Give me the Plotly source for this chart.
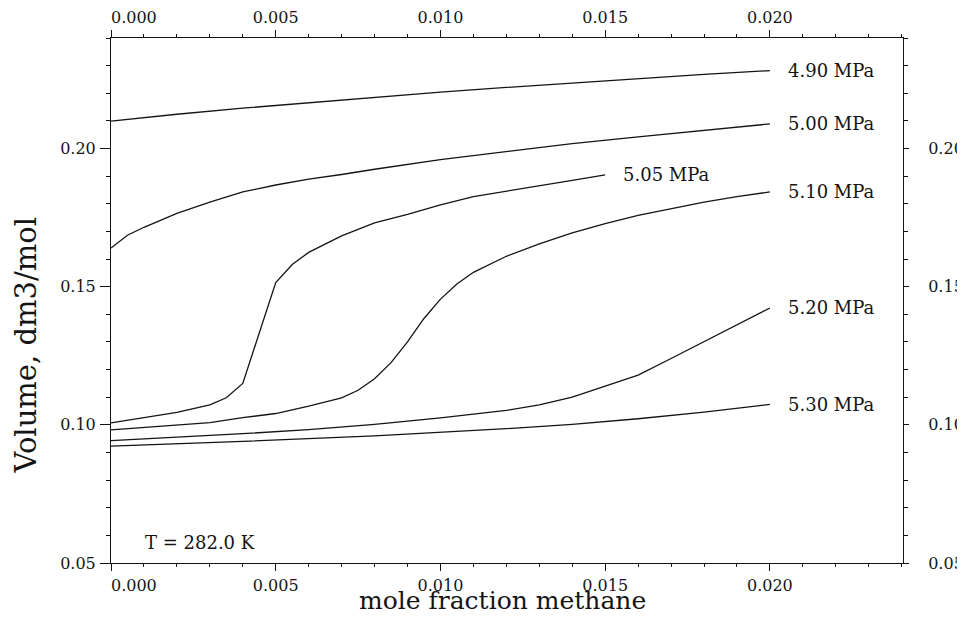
import plotly.graph_objects as go

# ---- data ----
x_490 = [0.000, 0.002, 0.004, 0.006, 0.008, 0.010, 0.012, 0.014, 0.016, 0.018, 0.020]
v_490 = [0.2099, 0.2124, 0.2146, 0.2166, 0.2186, 0.2204, 0.2221, 0.2237, 0.2253, 0.2268, 0.2282]

x_500 = [0.000, 0.0005, 0.001, 0.002, 0.003, 0.004, 0.005, 0.006, 0.007, 0.008,
         0.010, 0.012, 0.014, 0.016, 0.018, 0.020]
v_500 = [0.1640, 0.1686, 0.1715, 0.1765, 0.1806, 0.1843, 0.1868, 0.1889, 0.1906, 0.1925,
         0.1960, 0.1990, 0.2018, 0.2042, 0.2066, 0.2089]

x_505 = [0.000, 0.001, 0.002, 0.003, 0.0035, 0.004, 0.005, 0.0055, 0.006, 0.007,
         0.008, 0.009, 0.010, 0.011, 0.012, 0.013, 0.014, 0.015]
v_505 = [0.1007, 0.1025, 0.1045, 0.1072, 0.1098, 0.1150, 0.1515, 0.1580, 0.1624, 0.1684,
         0.1731, 0.1762, 0.1796, 0.1826, 0.1845, 0.1866, 0.1885, 0.1905]

x_510 = [0.000, 0.001, 0.002, 0.003, 0.004, 0.005, 0.006, 0.007, 0.0075, 0.008,
         0.0085, 0.009, 0.0095, 0.010, 0.0105, 0.011, 0.012, 0.013, 0.014, 0.015,
         0.016, 0.017, 0.018, 0.019, 0.020]
v_510 = [0.0982, 0.0990, 0.0998, 0.1008, 0.1026, 0.1041, 0.1068, 0.1098, 0.1125, 0.1167,
         0.1225, 0.1300, 0.1385, 0.1455, 0.1510, 0.1552, 0.1610, 0.1655, 0.1695, 0.1728,
         0.1758, 0.1782, 0.1806, 0.1826, 0.1843]

x_520 = [0.000, 0.002, 0.004, 0.006, 0.008, 0.010, 0.012, 0.013, 0.014, 0.015,
         0.016, 0.017, 0.018, 0.019, 0.020]
v_520 = [0.0943, 0.0955, 0.0968, 0.0983, 0.1002, 0.1025, 0.1052, 0.1072, 0.1100, 0.1140,
         0.1180, 0.1240, 0.1300, 0.1362, 0.1423]

x_530 = [0.000, 0.004, 0.008, 0.010, 0.012, 0.014, 0.016, 0.018, 0.020]
v_530 = [0.0923, 0.0940, 0.0960, 0.0972, 0.0986, 0.1002, 0.1022, 0.1046, 0.1074]

series_names = ["4.90 MPa", "5.00 MPa", "5.05 MPa", "5.10 MPa", "5.20 MPa", "5.30 MPa"]
series_x = [x_490, x_500, x_505, x_510, x_520, x_530]
series_v = [v_490, v_500, v_505, v_510, v_520, v_530]

x_tickvals = [0.000, 0.005, 0.010, 0.015, 0.020]
x_ticktext = ["\u00a0" * 9 + "0.000", "0.005", "0.010", "0.015", "0.020"]
y_tickvals = [0.05, 0.10, 0.15, 0.20]
y_ticktext = ["0.05", "0.10", "0.15", "0.20"]

x_range = [0.0, 0.02404]
y_range = [0.05, 0.24]

temp_label = "T = 282.0 K"
x_title = "mole fraction methane"
y_title = "Volume, dm3/mol"

INK = "#141414"
SERIF = "DejaVu Serif"

fig = go.Figure()
for name, xs, vs in zip(series_names, series_x, series_v):
    fig.add_trace(go.Scatter(x=xs, y=vs, mode="lines", name=name,
                             line=dict(color=INK, width=1.3),
                             showlegend=False, hoverinfo="skip"))
    fig.add_annotation(x=xs[-1], y=vs[-1], text=name, xanchor="left", yanchor="middle",
                       xshift=16, showarrow=False,
                       font=dict(family=SERIF, size=18, color=INK))

# invisible trace so the top / right axes are drawn
fig.add_trace(go.Scatter(x=x_490, y=v_490, xaxis="x2", yaxis="y2", mode="lines",
                         line=dict(width=0, color="rgba(0,0,0,0)"),
                         showlegend=False, hoverinfo="skip"))

tickfont = dict(family=SERIF, size=16, color=INK)

xcommon = dict(range=x_range, tickmode="array", tickvals=x_tickvals, ticktext=x_ticktext,
               ticks="outside", ticklen=7, tickwidth=1, tickcolor=INK, automargin=False,
               showline=True, linecolor=INK, linewidth=1, showgrid=False, zeroline=False,
               minor=dict(tickmode="linear", tick0=0.0, dtick=0.001, ticks="outside",
                          ticklen=3, tickcolor=INK, showgrid=False),
               tickfont=tickfont)
ycommon = dict(range=y_range, tickmode="array", tickvals=y_tickvals, ticktext=y_ticktext,
               ticks="outside", tickwidth=1, tickcolor=INK, automargin=False,
               showline=True, linecolor=INK, linewidth=1, showgrid=False, zeroline=False,
               minor=dict(tickmode="linear", tick0=0.05, dtick=0.01, ticks="outside",
                          ticklen=4, tickcolor=INK, showgrid=False),
               tickfont=tickfont)

# the page adds an 8 px body margin, so the figure is 8 px smaller than the window
fig.update_layout(
    width=957, height=609,
    margin=dict(l=103, r=62, t=30, b=54, autoexpand=False),
    paper_bgcolor="white", plot_bgcolor="white",
    showlegend=False,
    xaxis=dict(**xcommon, ticklabelstandoff=1),
    xaxis2=dict(**xcommon, overlaying="x", side="top", ticklabelstandoff=1),
    yaxis=dict(**ycommon, ticklen=10, ticklabelstandoff=1),
    yaxis2=dict(**ycommon, overlaying="y", side="right", ticklen=5, ticklabelstandoff=16),
)

fig.add_annotation(x=0.00097, y=0.0575, xref="x", yref="y", text=temp_label,
                   xanchor="left", yanchor="middle", showarrow=False,
                   font=dict(family=SERIF, size=18, color=INK))
fig.add_annotation(x=0.4937, y=-0.1025, xref="paper", yref="paper", text=x_title,
                   xanchor="center", yanchor="bottom", showarrow=False,
                   font=dict(family=SERIF, size=25, color=INK))
fig.add_annotation(x=-0.107, y=0.415, xref="paper", yref="paper", text=y_title,
                   textangle=-90, xanchor="center", yanchor="middle", showarrow=False,
                   font=dict(family=SERIF, size=29, color=INK))

fig.write_html("out.html")
